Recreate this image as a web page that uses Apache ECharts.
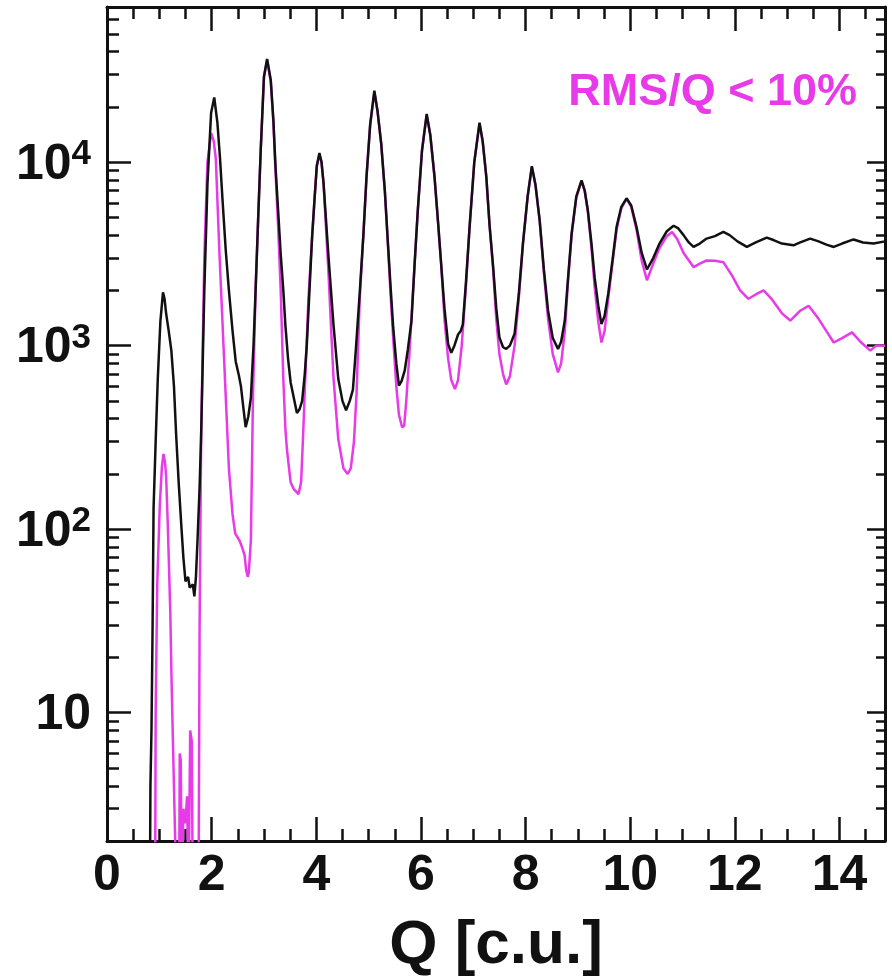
<!DOCTYPE html>
<html>
<head>
<meta charset="utf-8">
<style>
  html, body { margin: 0; padding: 0; background: #fff; }
  #chart { width: 892px; height: 976px; }
</style>
<script src="https://cdn.jsdelivr.net/npm/echarts@6/dist/echarts.min.js"></script>
</head>
<body>
<div id="chart"></div>
<script>
// Intensity spectrum vs. Q, all events (black) and events with RMS/Q < 10% (magenta)
const qBlack = [
  0.00, 0.82, 0.83, 0.85, 0.87, 0.89, 0.93, 0.97, 1.02, 1.07, 1.10, 1.13, 1.18, 1.23, 1.28, 1.32,
  1.37, 1.42, 1.46, 1.50, 1.55, 1.58, 1.61, 1.64, 1.67, 1.70, 1.73, 1.77, 1.80, 1.86, 1.92, 1.99,
  2.05, 2.11, 2.16, 2.21, 2.27, 2.33, 2.40, 2.46, 2.52, 2.56, 2.61, 2.65, 2.70, 2.75, 2.80, 2.84,
  2.89, 2.94, 3.00, 3.06, 3.13, 3.18, 3.22, 3.27, 3.32, 3.37, 3.41, 3.46, 3.51, 3.57, 3.63, 3.68,
  3.73, 3.78, 3.82, 3.87, 3.92, 3.97, 4.01, 4.06, 4.10, 4.14, 4.23, 4.33, 4.42, 4.50, 4.57, 4.64,
  4.70, 4.75, 4.83, 4.90, 4.96, 5.03, 5.11, 5.17, 5.24, 5.31, 5.37, 5.42, 5.47, 5.53, 5.58, 5.63,
  5.69, 5.75, 5.82, 5.88, 5.94, 6.02, 6.11, 6.18, 6.26, 6.33, 6.39, 6.45, 6.52, 6.58, 6.64, 6.71,
  6.76, 6.80, 6.86, 6.93, 7.02, 7.12, 7.18, 7.25, 7.31, 7.38, 7.44, 7.50, 7.57, 7.63, 7.70, 7.79,
  7.87, 7.95, 8.04, 8.12, 8.19, 8.27, 8.35, 8.43, 8.52, 8.62, 8.68, 8.75, 8.81, 8.88, 8.97, 9.07,
  9.13, 9.19, 9.26, 9.32, 9.39, 9.45, 9.51, 9.58, 9.66, 9.74, 9.83, 9.93, 10.02, 10.12, 10.22, 10.32,
  10.44, 10.56, 10.70, 10.83, 10.92, 11.02, 11.12, 11.21, 11.33, 11.46, 11.62, 11.78, 11.90, 12.05, 12.23, 12.40,
  12.61, 12.75, 12.90, 13.12, 13.25, 13.44, 13.60, 13.75, 13.89, 14.05, 14.27, 14.45, 14.65, 14.87
];
const iBlack = [
  1, 1, 4, 8, 27, 130, 300, 655, 1350, 1950, 1800, 1500, 1200, 940, 600, 333,
  180, 105, 70, 52, 55, 48, 47, 50, 43, 55, 87, 170, 333, 2000, 7600, 18600,
  22500, 16400, 10500, 6100, 3300, 2000, 1200, 820, 690, 600, 450, 360, 410, 520, 1000, 2000,
  5000, 12000, 29300, 36500, 28000, 17000, 9550, 5500, 3150, 2000, 1290, 850, 630, 520, 430, 450,
  500, 700, 1020, 2000, 3900, 6500, 9550, 11200, 10000, 7600, 3150, 1290, 660, 500, 445, 500,
  575, 900, 1930, 4000, 8300, 16000, 24500, 19000, 12700, 7000, 3600, 2100, 1260, 800, 605, 640,
  730, 950, 1370, 2800, 5470, 11500, 18300, 14000, 8300, 4600, 2700, 1600, 1020, 915, 1000, 1150,
  1200, 1300, 2200, 4430, 10000, 16400, 13000, 8300, 4600, 2700, 1600, 1110, 980, 960, 1000, 1160,
  1900, 3600, 6500, 9500, 7500, 4800, 2600, 1550, 1100, 960, 1050, 1370, 2300, 4080, 6500, 7950,
  7000, 5470, 3600, 2360, 1650, 1310, 1450, 1920, 2900, 4440, 5700, 6350, 5800, 4440, 3200, 2600,
  3000, 3600, 4200, 4500, 4350, 4000, 3650, 3450, 3600, 3830, 3950, 4170, 4000, 3700, 3450, 3650,
  3880, 3750, 3600, 3520, 3650, 3830, 3700, 3550, 3450, 3600, 3790, 3650, 3600, 3700
];

const qMagenta = [
  0.00, 0.92, 0.93, 0.96, 1.01, 1.05, 1.08, 1.11, 1.13, 1.16, 1.18, 1.21, 1.23, 1.26, 1.30, 1.33,
  1.38, 1.39, 1.41, 1.43, 1.46, 1.50, 1.53, 1.56, 1.59, 1.62, 1.64, 1.75, 1.77, 1.80, 1.86, 1.92,
  1.99, 2.04, 2.08, 2.15, 2.24, 2.33, 2.40, 2.45, 2.53, 2.58, 2.63, 2.66, 2.69, 2.71, 2.75, 2.79,
  2.84, 2.89, 2.94, 3.00, 3.06, 3.13, 3.18, 3.22, 3.27, 3.32, 3.37, 3.41, 3.44, 3.51, 3.57, 3.62,
  3.66, 3.71, 3.75, 3.80, 3.85, 3.92, 3.97, 4.01, 4.06, 4.10, 4.14, 4.23, 4.28, 4.33, 4.42, 4.52,
  4.60, 4.66, 4.72, 4.77, 4.83, 4.90, 4.96, 5.03, 5.11, 5.17, 5.24, 5.31, 5.37, 5.42, 5.47, 5.53,
  5.58, 5.64, 5.68, 5.72, 5.78, 5.84, 5.90, 5.94, 6.02, 6.11, 6.18, 6.26, 6.33, 6.39, 6.45, 6.52,
  6.58, 6.65, 6.71, 6.78, 6.86, 6.93, 7.02, 7.12, 7.18, 7.25, 7.31, 7.38, 7.44, 7.50, 7.57, 7.63,
  7.70, 7.79, 7.87, 7.95, 8.04, 8.12, 8.19, 8.27, 8.35, 8.43, 8.52, 8.62, 8.68, 8.75, 8.81, 8.88,
  8.97, 9.07, 9.13, 9.19, 9.26, 9.32, 9.39, 9.45, 9.51, 9.58, 9.66, 9.74, 9.83, 9.93, 10.02, 10.12,
  10.22, 10.32, 10.44, 10.56, 10.70, 10.80, 10.90, 11.02, 11.21, 11.33, 11.46, 11.62, 11.78, 11.95, 12.10, 12.26,
  12.40, 12.55, 12.70, 12.90, 13.06, 13.25, 13.41, 13.60, 13.75, 13.89, 14.05, 14.24, 14.40, 14.59, 14.70, 14.87
];
const iMagenta = [
  1, 1, 10, 50, 137, 220, 257, 230, 195, 110, 70, 35, 17, 7, 2.2, 1,
  1, 6, 5.5, 1, 3, 2.5, 3.5, 1, 8, 7, 1, 1, 30, 330, 3000, 10000,
  14400, 13000, 10400, 3150, 820, 214, 120, 95, 87, 80, 72, 60, 55, 58, 87, 525,
  2000, 5000, 12000, 29000, 36000, 27500, 16500, 9000, 4500, 2000, 660, 350, 270, 180, 165, 160,
  155, 180, 333, 800, 1800, 3900, 6500, 9500, 11000, 10000, 7600, 2600, 1300, 660, 310, 214,
  200, 215, 300, 550, 1800, 4000, 8300, 16000, 24000, 19000, 12700, 7000, 3500, 1900, 1100, 600,
  420, 360, 365, 500, 900, 1800, 3500, 5400, 11500, 18100, 14000, 8300, 4600, 2700, 1400, 850,
  650, 580, 650, 1000, 2100, 4400, 10000, 16300, 13000, 8300, 4600, 2600, 1400, 900, 700, 615,
  680, 1000, 1800, 3600, 6500, 9400, 7500, 4800, 2500, 1400, 900, 715, 800, 1200, 2200, 4000,
  6400, 7900, 7000, 5400, 3400, 2100, 1350, 1040, 1200, 1800, 2800, 4300, 5600, 6300, 5700, 4300,
  2900, 2270, 2800, 3400, 3950, 4160, 3800, 3200, 2680, 2800, 2910, 2900, 2850, 2400, 2000, 1800,
  1900, 2000, 1800, 1500, 1370, 1550, 1650, 1400, 1200, 1040, 1100, 1180, 1050, 940, 1000, 1000
];

const qMajor = [0, 2, 4, 6, 8, 10, 12, 14];
const qMinor = [0.5, 1, 1.5, 2.5, 3, 3.5, 4.5, 5, 5.5, 6.5, 7, 7.5, 8.5, 9, 9.5, 10.5, 11, 11.5, 12.5, 13, 13.5, 14.5];
const yMajor = [10, 100, 1000, 10000];
const yMinor = [2, 3, 4, 5, 6, 7, 8, 9, 20, 30, 40, 50, 60, 70, 80, 90,
  200, 300, 400, 500, 600, 700, 800, 900, 2000, 3000, 4000, 5000, 6000, 7000, 8000, 9000,
  20000, 30000, 40000, 50000, 60000, 70000];

const Q_MIN = 0, Q_MAX = 14.87, I_MIN = 2, I_MAX = 70000;
const FONT = '"Liberation Sans", Arial, Helvetica, sans-serif';
const INK = '#111111';
const PINK = '#e83ae8';

const pairs = (xs, ys) => xs.map((x, i) => [x, ys[i]]);

function xAxisDef(pos, ticks, len, withLabels, showLine) {
  return {
    type: 'value', position: pos, min: Q_MIN, max: Q_MAX,
    axisLine: { show: showLine, onZero: false, lineStyle: { color: INK, width: 3 } },
    axisTick: { show: true, inside: true, length: len, customValues: ticks, lineStyle: { color: INK, width: 2.5 } },
    axisLabel: withLabels ? {
      show: true, customValues: qMajor, margin: 10, color: INK,
      fontFamily: FONT, fontWeight: 'bold', fontSize: 50
    } : { show: false },
    splitLine: { show: false },
    name: withLabels ? 'Q [c.u.]' : '',
    nameLocation: 'middle', nameGap: 74,
    nameTextStyle: { color: INK, fontFamily: FONT, fontWeight: 'bold', fontSize: 62 }
  };
}

function yAxisDef(pos, ticks, len, withLabels, showLine) {
  return {
    type: 'log', logBase: 10, position: pos, min: I_MIN, max: I_MAX,
    axisLine: { show: showLine, onZero: false, lineStyle: { color: INK, width: 3 } },
    axisTick: { show: true, inside: true, length: len, customValues: ticks, lineStyle: { color: INK, width: 2.5 } },
    axisLabel: withLabels ? {
      show: true, customValues: yMajor, margin: 16, color: INK,
      formatter: v => {
        const e = Math.round(Math.log10(v));
        return e === 1 ? '{b|10}' : '{b|10}{s|' + e + '}';
      },
      rich: {
        b: { fontFamily: FONT, fontWeight: 'bold', fontSize: 50, color: INK, lineHeight: 50, padding: [6, 0, 0, 0] },
        s: { fontFamily: FONT, fontWeight: 'bold', fontSize: 35, color: INK, lineHeight: 35, verticalAlign: 'top' }
      }
    } : { show: false },
    splitLine: { show: false }
  };
}

const chart = echarts.init(document.getElementById('chart'), null, { renderer: 'canvas' });
chart.setOption({
  animation: false,
  backgroundColor: '#ffffff',
  grid: { left: 107, right: 7, top: 7, bottom: 135, containLabel: false, outerBoundsMode: 'none' },
  xAxis: [
    xAxisDef('bottom', qMajor, 24, true, true),
    xAxisDef('bottom', qMinor, 12, false, false),
    xAxisDef('top', qMajor, 24, false, true),
    xAxisDef('top', qMinor, 12, false, false)
  ],
  yAxis: [
    yAxisDef('left', yMajor, 24, true, true),
    yAxisDef('left', yMinor, 12, false, false),
    yAxisDef('right', yMajor, 18, false, true),
    yAxisDef('right', yMinor, 9, false, false)
  ],
  graphic: [{
    type: 'text', right: 35, top: 70,
    style: { text: 'RMS/Q < 10%', fill: PINK, font: 'bold 45px ' + FONT }
  }],
  series: [
    {
      name: 'all', type: 'line', xAxisIndex: 0, yAxisIndex: 0,
      data: pairs(qBlack, iBlack), showSymbol: false, symbol: 'none',
      lineStyle: { color: INK, width: 2.5 }, z: 3
    },
    {
      name: 'RMS/Q < 10%', type: 'line', xAxisIndex: 0, yAxisIndex: 0,
      data: pairs(qMagenta, iMagenta), showSymbol: false, symbol: 'none',
      lineStyle: { color: PINK, width: 2.5 }, z: 2
    }
  ]
});
</script>
</body>
</html>
